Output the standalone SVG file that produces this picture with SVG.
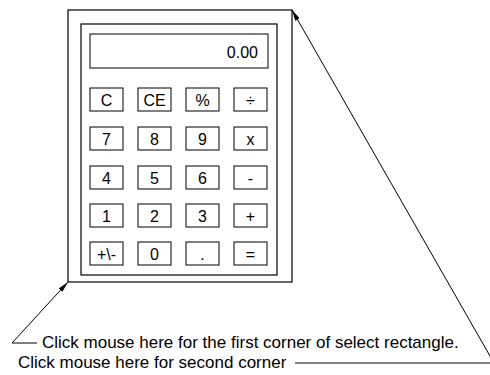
<svg xmlns="http://www.w3.org/2000/svg" width="490" height="375" viewBox="0 0 490 375">
<defs>
<marker id="arr" markerUnits="userSpaceOnUse" markerWidth="12" markerHeight="8" refX="11" refY="3.5" orient="auto">
<path d="M0,1 L11,3.5 L0,6 Z" fill="#000"/>
</marker>
<style>
.box{fill:#fff;stroke:#000;stroke-width:1.2}
.key{fill:#fff;stroke:#000;stroke-width:1}
.lbl{font-family:"Liberation Sans",Arial,sans-serif;font-size:16px;text-anchor:middle;fill:#000}
.note{font-family:"Liberation Sans",Arial,sans-serif;font-size:17px;fill:#000}
.lead{fill:none;stroke:#000;stroke-width:1}
</style>
</defs>
<rect width="490" height="375" fill="#fff"/>
<g id="calculator">
<rect class="box" x="68" y="10" width="224" height="272"/>
<rect class="box" x="81" y="24" width="196" height="251"/>
</g>
<g id="display">
<rect class="key" x="90" y="34" width="178" height="34"/>
<text x="258" y="58" style="font-family:'Liberation Sans',Arial,sans-serif;font-size:16px;text-anchor:end">0.00</text>
</g>
<g id="keys">
<g id="k-C"><rect class="key" x="90" y="88" width="33" height="23"/><text class="lbl" x="106.5" y="105.5">C</text></g>
<g id="k-CE"><rect class="key" x="138" y="88" width="33" height="23"/><text class="lbl" x="154.5" y="105.5">CE</text></g>
<g id="k-pct"><rect class="key" x="186" y="88" width="33" height="23"/><text class="lbl" x="202.5" y="105.5">%</text></g>
<g id="k-div"><rect class="key" x="234" y="88" width="33" height="23"/><text class="lbl" x="250.5" y="105.5">÷</text></g>
<g id="k-7"><rect class="key" x="90" y="127" width="33" height="23"/><text class="lbl" x="106.5" y="144.5">7</text></g>
<g id="k-8"><rect class="key" x="138" y="127" width="33" height="23"/><text class="lbl" x="154.5" y="144.5">8</text></g>
<g id="k-9"><rect class="key" x="186" y="127" width="33" height="23"/><text class="lbl" x="202.5" y="144.5">9</text></g>
<g id="k-x"><rect class="key" x="234" y="127" width="33" height="23"/><text class="lbl" x="250.5" y="144.5">x</text></g>
<g id="k-4"><rect class="key" x="90" y="166" width="33" height="23"/><text class="lbl" x="106.5" y="183.5">4</text></g>
<g id="k-5"><rect class="key" x="138" y="166" width="33" height="23"/><text class="lbl" x="154.5" y="183.5">5</text></g>
<g id="k-6"><rect class="key" x="186" y="166" width="33" height="23"/><text class="lbl" x="202.5" y="183.5">6</text></g>
<g id="k-minus"><rect class="key" x="234" y="166" width="33" height="23"/><text class="lbl" x="250.5" y="183.5">-</text></g>
<g id="k-1"><rect class="key" x="90" y="204" width="33" height="23"/><text class="lbl" x="106.5" y="221.5">1</text></g>
<g id="k-2"><rect class="key" x="138" y="204" width="33" height="23"/><text class="lbl" x="154.5" y="221.5">2</text></g>
<g id="k-3"><rect class="key" x="186" y="204" width="33" height="23"/><text class="lbl" x="202.5" y="221.5">3</text></g>
<g id="k-plus"><rect class="key" x="234" y="204" width="33" height="23"/><text class="lbl" x="250.5" y="221.5">+</text></g>
<g id="k-sign"><rect class="key" x="90" y="242" width="33" height="23"/><text class="lbl" x="106.5" y="259.5">+\-</text></g>
<g id="k-0"><rect class="key" x="138" y="242" width="33" height="23"/><text class="lbl" x="154.5" y="259.5">0</text></g>
<g id="k-dot"><rect class="key" x="186" y="242" width="33" height="23"/><text class="lbl" x="202.5" y="259.5">.</text></g>
<g id="k-eq"><rect class="key" x="234" y="242" width="33" height="23"/><text class="lbl" x="250.5" y="259.5">=</text></g>
</g>
<g id="connectors">
<polyline class="lead" points="37,343 12,343 68,282" marker-end="url(#arr)"/>
<polyline class="lead" points="295,363 494,363 292,10" marker-end="url(#arr)"/>
</g>
<g id="notes">
<text class="note" x="42" y="348">Click mouse here for the first corner of select rectangle.</text>
<text class="note" x="18" y="368">Click mouse here for second corner</text>
</g>
</svg>
